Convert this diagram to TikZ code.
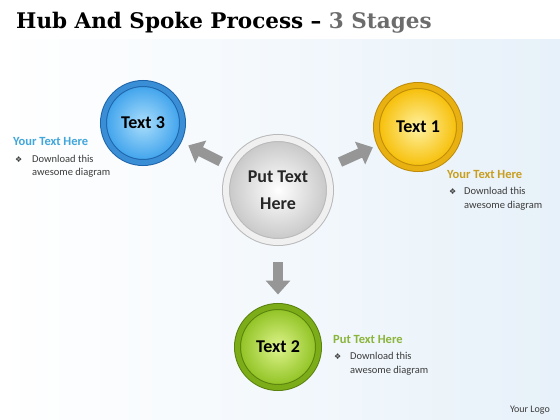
\documentclass[tikz,border=0pt]{standalone}
\usepackage{fontspec}
\setmainfont{Carlito}
\newfontfamily\titlefont{DejaVu Serif}
\newfontfamily\symfont{DejaVu Sans}
\usetikzlibrary{arrows.meta}
\usetikzlibrary{positioning}

\definecolor{bgblue}{RGB}{231, 241, 249}
\definecolor{ringblue}{RGB}{58, 142, 214}
\definecolor{edgeblue}{RGB}{30, 100, 170}
\definecolor{lightblue}{RGB}{170, 222, 252}
\definecolor{midblue}{RGB}{58, 160, 235}
\definecolor{ringyellow}{RGB}{232, 176, 16}
\definecolor{edgeyellow}{RGB}{190, 140, 10}
\definecolor{lightyellow}{RGB}{255, 242, 160}
\definecolor{midyellow}{RGB}{246, 188, 0}
\definecolor{ringgreen}{RGB}{124, 172, 24}
\definecolor{edgegreen}{RGB}{90, 130, 15}
\definecolor{lightgreen}{RGB}{222, 244, 140}
\definecolor{midgreen}{RGB}{140, 192, 30}
\definecolor{headblue}{RGB}{65, 166, 219}
\definecolor{headgold}{RGB}{200, 158, 30}
\definecolor{headgreen}{RGB}{138, 180, 58}
\definecolor{textgray}{RGB}{60, 60, 60}
\definecolor{spokegray}{RGB}{150, 150, 150}

\tikzset{
    ball/.style = {
      circle,
      inner sep=0pt,
      outer sep=0pt,
      line width=1pt,
      double distance=5pt,
      shading=radial,
      text=black,
      font=\fontsize{18}{20}\selectfont\bfseries
    },
    spoke/.style={-{Triangle[length=14pt,width=24pt]}, line width=10pt, draw=spokegray},
    head/.style = {
      anchor=base west,
      inner sep=0pt,
      font=\fontsize{12.5}{14}\selectfont\bfseries
    },
    bullet/.style = {
      anchor=base west,
      inner sep=0pt,
      text=textgray,
      font=\fontsize{10.5}{13.5}\selectfont
    },
}

\begin{document}
\begin{tikzpicture}[x=1pt, y=-1pt]
  \useasboundingbox (0,0) rectangle (560,420);
  \shade[left color=white, right color=bgblue] (0,40) rectangle (560,420);

  % title
  \node[anchor=base west, inner sep=0pt, font=\titlefont\fontsize{21.5}{24}\selectfont\bfseries] (title) at (16,29)
    {Hub And Spoke Process – \textcolor{gray!85!black}{3 Stages}};

  % hub and stages
  \node[ball, minimum size=104pt, draw=gray!55, double=gray!12, double distance=6pt,
        inner color=white, outer color=gray!45, align=center, text=black!85,
        font=\fontsize{18}{27}\selectfont\bfseries] (hub) at (278,190) {Put Text\\Here};
  \node[ball, minimum size=79pt, draw=edgeblue, double=ringblue,
        inner color=lightblue, outer color=midblue] (t3) at (143,123) {Text 3};
  \node[ball, minimum size=83pt, draw=edgeyellow, double=ringyellow,
        inner color=lightyellow, outer color=midyellow] (t1) at (418,127) {Text 1};
  \node[ball, minimum size=81pt, draw=edgegreen, double=ringgreen,
        inner color=lightgreen, outer color=midgreen] (t2) at (278,347) {Text 2};

  \draw[spoke, shorten <=12pt, shorten >=11pt] (hub) -- (t3);
  \draw[spoke, shorten <=16pt, shorten >=8pt] (hub) -- (t1);
  \draw[spoke, shorten <=20pt, shorten >=12pt] (hub) -- (t2);

  % notes
  \node[head, text=headblue] (h3) at (13,146) {Your Text Here};
  \node[bullet] (s3) at (15,162) {\symfont\fontsize{8}{10}\selectfont ❖};
  \node[bullet] (n3) at (32,162) {Download this};
  \node[bullet] (m3) at (32,175) {awesome diagram};

  \node[head, text=headgold] (h1) at (447,178) {Your Text Here};
  \node[bullet] (s1) at (449,194) {\symfont\fontsize{8}{10}\selectfont ❖};
  \node[bullet] (n1) at (464,194) {Download this};
  \node[bullet] (m1) at (464,208) {awesome diagram};

  \node[head, text=headgreen] (h2) at (333,343) {Put Text Here};
  \node[bullet] (s2) at (334,359) {\symfont\fontsize{8}{10}\selectfont ❖};
  \node[bullet] (n2) at (350,359) {Download this};
  \node[bullet] (m2) at (350,373) {awesome diagram};

  \node[bullet, anchor=base east, font=\fontsize{10}{12}\selectfont] (logo) at (550,412) {Your Logo};
\end{tikzpicture}
\end{document}
